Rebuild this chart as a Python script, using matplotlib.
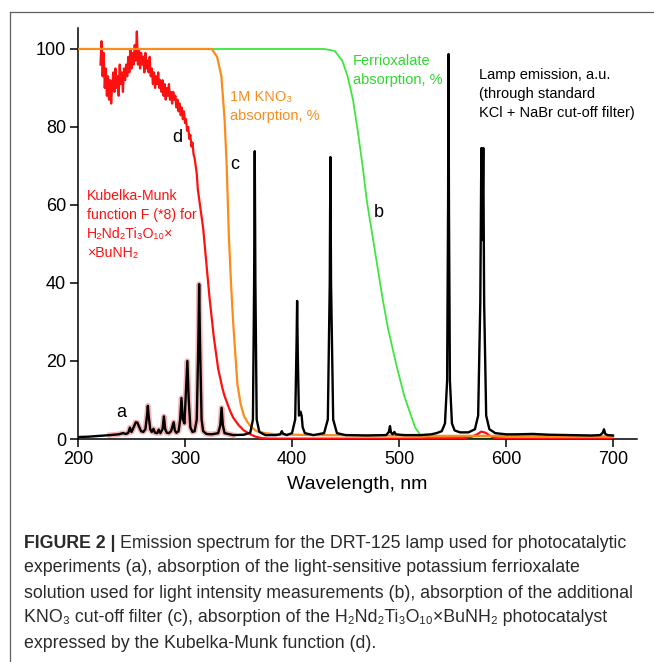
import matplotlib
matplotlib.use("Agg")
import matplotlib.pyplot as plt
from matplotlib.lines import Line2D

plt.rcParams['font.family'] = ['Liberation Sans', 'DejaVu Sans']

# ---- lamp emission (a), a.u. ----
lamp_wl = [200, 210, 220, 230, 238, 242, 245, 247, 248.5, 250, 252, 254, 255.5, 257, 259, 261,
           263, 264.5, 265.3, 266, 267.5, 269, 270.5, 272, 274, 275.5, 277, 279, 280.3, 281.5,
           283, 285, 287, 289.4, 290.5, 292, 294, 295.5, 296.7, 298, 299.5, 300.8, 302.2, 303.5,
           305, 307, 309, 311, 312.5, 313.2, 314, 315.5, 317, 320, 325, 331, 333, 334.2, 335.4,
           337, 345, 355, 361, 363.5, 364.6, 365.2, 365.8, 367, 369.5, 375, 385, 389, 390.5,
           391.5, 395, 400, 403, 404.3, 404.8, 405.4, 406.5, 408, 409, 410, 412, 420, 430,
           433.5, 435.3, 435.9, 436.5, 438.5, 442, 450, 470, 488, 490.5, 491.6, 492.5, 494,
           495.7, 497, 505, 520, 530, 535, 540, 543, 545, 545.9, 546.3, 546.7, 547.6, 549.5,
           552, 557, 565, 571, 574, 576.0, 577.0, 577.9, 578.8, 579.6, 581.5, 584.5,
           590, 600, 610, 625, 640, 660, 680, 688, 690.5, 691.6, 692.8, 695, 700]
lamp_val = [0.5, 0.6, 0.8, 1.0, 1.2, 1.5, 1.3, 1.6, 2.9, 1.8, 3.0, 4.3, 4.2, 3.2, 2.0, 1.8,
            2.5, 6.0, 8.5, 6.0, 2.5, 1.8, 2.6, 1.6, 1.5, 2.4, 1.5, 2.5, 5.8, 2.5,
            1.6, 1.5, 2.0, 4.3, 2.2, 1.6, 2.0, 5.0, 10.5, 5.0, 4.0, 12.0, 20.0, 10.0,
            3.0, 1.8, 2.0, 5.0, 25.0, 39.7, 25.0, 5.0, 2.0, 1.3, 1.2, 1.5, 3.5, 8.0, 3.5,
            1.5, 1.0, 1.1, 1.6, 5.0, 40.0, 73.8, 40.0, 5.0, 1.8, 1.0, 1.0, 1.2, 2.0,
            1.4, 1.0, 1.5, 5.0, 25.0, 35.4, 22.0, 6.0, 7.0, 6.0, 3.0, 1.5, 1.0, 1.5,
            5.0, 40.0, 72.3, 40.0, 5.0, 1.5, 1.0, 0.9, 1.0, 1.8, 3.3, 1.7, 1.2,
            1.8, 1.2, 1.0, 1.0, 1.2, 1.5, 2.0, 4.0, 15.0, 60.0, 98.7, 60.0, 15.0, 4.0,
            2.2, 1.7, 1.7, 2.5, 6.0, 35.0, 74.6, 51.0, 74.6, 35.0, 6.0, 2.5,
            1.5, 1.2, 1.2, 1.3, 1.1, 1.0, 0.9, 1.0, 1.6, 2.5, 1.3, 1.0, 0.9]

# ---- ferrioxalate absorption (b), % ----
ferri_wl = [200, 300, 400, 430, 440, 447, 452, 457, 462, 466, 470, 475, 480, 485, 490, 498,
            505, 510, 515, 520, 530, 600, 700]
ferri_val = [100, 100, 100, 100, 99.5, 97, 93, 87, 78, 70, 61, 52.5, 44, 35.5, 28, 18.5,
             11, 7, 3, 1, 0.2, 0.1, 0.1]

# ---- 1M KNO3 absorption (c), % ----
kno3_wl = [200, 250, 300, 325, 330, 334, 337, 339, 341, 343, 345, 347, 349, 352, 355, 358,
           362, 367, 375, 385, 420, 480, 540, 600, 650, 700]
kno3_val = [100, 100, 100, 100, 98, 93, 82, 70, 52, 40, 30, 22, 14, 9, 6, 4.5,
            3, 2, 1.5, 1.2, 1.0, 0.9, 0.8, 0.8, 0.7, 0.7]

# ---- Kubelka-Munk function F(*8) of H2Nd2Ti3O10 x BuNH2 (d) ----
km_wl = list(range(221, 326)) + [327, 329, 331, 333, 335, 337, 339, 342, 345, 350, 355,
                                 361, 366, 372, 380, 400, 450, 500, 560, 568, 573, 577,
                                 581, 585, 590, 600, 650, 700]
km_val = [96, 102, 93, 99, 90, 95, 88, 93, 87, 92, 86, 91, 94, 89, 95, 90, 93, 88, 96, 91,
          94, 89, 95, 92, 96, 93, 98, 94, 100, 95, 99, 96, 101, 97, 104.5, 96, 100, 95, 99, 96,
          98, 94, 99, 95, 97, 94, 98, 93, 95, 91, 94, 90, 93, 91, 94, 90, 92, 89, 92, 88,
          91, 87, 90, 88, 91, 87, 89, 86, 89, 87, 88, 85, 87, 84, 86, 83, 85, 82, 84, 81,
          82, 79, 80, 77, 78, 75, 76, 73, 72, 70, 68, 64, 62, 60, 58, 56, 54, 51, 48, 45,
          42, 39, 36, 33.5, 31,
          26, 22, 18, 15.5, 13, 11, 9.5, 7.3, 5.5, 3.6, 2.2,
          1.2, 0.6, 0.2, 0.1, 0.1, 0.1, 0.1, 0.2, 0.6, 1.2, 1.9,
          1.6, 0.8, 0.2, 0.1, 0.1, 0.1]

x_ticks = [200, 300, 400, 500, 600, 700]
y_ticks = [0, 20, 40, 60, 80, 100]

W, H = 654, 662
fig = plt.figure(figsize=(W / 100, H / 100), dpi=100)

# page frame (top and left edges of the figure box)
fig.add_artist(Line2D([10 / W, 10 / W], [0, 1 - 12 / H], color='#606060', lw=0.9))
fig.add_artist(Line2D([10 / W, 1], [1 - 12 / H, 1 - 12 / H], color='#606060', lw=0.9))

ax = fig.add_axes([78 / W, 1 - 439 / H, (636.5 - 78) / W, (439 - 28.3) / H])
ax.set_xlim(200, 722)
ax.set_ylim(0, 105.3)

GREEN = '#3fe63f'
ORANGE = '#fb8c1a'
RED = '#ff1010'

ax.plot(ferri_wl, ferri_val, color=GREEN, lw=1.3, zorder=2, solid_capstyle='butt')
ax.plot(km_wl, km_val, color=RED, lw=1.6, zorder=3)
ax.plot(kno3_wl, kno3_val, color=ORANGE, lw=1.6, zorder=4)

# faint halo under the UV part of the lamp trace
uv_wl = [w for w in lamp_wl if 228 <= w <= 345]
uv_val = [v for w, v in zip(lamp_wl, lamp_val) if 228 <= w <= 345]
ax.plot(uv_wl, uv_val, color='#f6b4b4', lw=4.0, zorder=4.5, solid_joinstyle='round')
ax.plot(lamp_wl, lamp_val, color='black', lw=1.7, zorder=5, solid_joinstyle='round')

for s in ['top', 'right']:
    ax.spines[s].set_visible(False)
for s in ['left', 'bottom']:
    ax.spines[s].set_linewidth(1.1)
ax.set_xticks(x_ticks)
ax.set_yticks(y_ticks)
ax.tick_params(direction='out', length=5.5, width=1.1, labelsize=13, pad=3,
               colors='black')
ax.set_xlabel('Wavelength, nm', fontsize=14, labelpad=6)

txt = dict(ha='left', va='center', fontsize=10.5, linespacing=1.45)
ax.text(457, 94.6, 'Ferrioxalate\nabsorption, %', color='#2fd82f', **txt)
ax.text(342, 85.3, '1M KNO\u2083\nabsorption, %', color=ORANGE, **txt)
ax.text(574.8, 88.5, 'Lamp emission, a.u.\n(through standard\nKCl + NaBr cut-off filter)',
        color='black', **txt)
ax.text(208.0, 54.9, 'Kubelka-Munk\nfunction F (*8) for\nH\u2082Nd\u2082Ti\u2083O\u2081\u2080\u00d7\n\u00d7BuNH\u2082',
        color=RED, ha='left', va='center', fontsize=10.2, linespacing=1.45)

lab = dict(ha='center', va='center', fontsize=13, color='black')
ax.text(240.2, 6.9, 'a', **lab)
ax.text(481.3, 58.0, 'b', **lab)
ax.text(346.7, 70.3, 'c', **lab)
ax.text(292.5, 77.4, 'd', **lab)

# caption
cap = dict(fontsize=12.8, color='#2a2a2a', va='center', ha='left')
x0 = 24 / W
ys = [543, 568, 593, 618, 643]
head = fig.text(x0, 1 - ys[0] / H, 'FIGURE 2 |', fontweight='bold', **cap)
fig.canvas.draw()
bb = head.get_window_extent(fig.canvas.get_renderer())
fig.text(bb.x1 / W + 4 / W, 1 - ys[0] / H,
         'Emission spectrum for the DRT-125 lamp used for photocatalytic', **cap)
lines = [
    'experiments (a), absorption of the light-sensitive potassium ferrioxalate',
    'solution used for light intensity measurements (b), absorption of the additional',
    'KNO\u2083 cut-off filter (c), absorption of the H\u2082Nd\u2082Ti\u2083O\u2081\u2080\u00d7BuNH\u2082 photocatalyst',
    'expressed by the Kubelka-Munk function (d).',
]
for y, t in zip(ys[1:], lines):
    fig.text(x0, 1 - y / H, t, **cap)

fig.savefig('out.png', dpi=100)
